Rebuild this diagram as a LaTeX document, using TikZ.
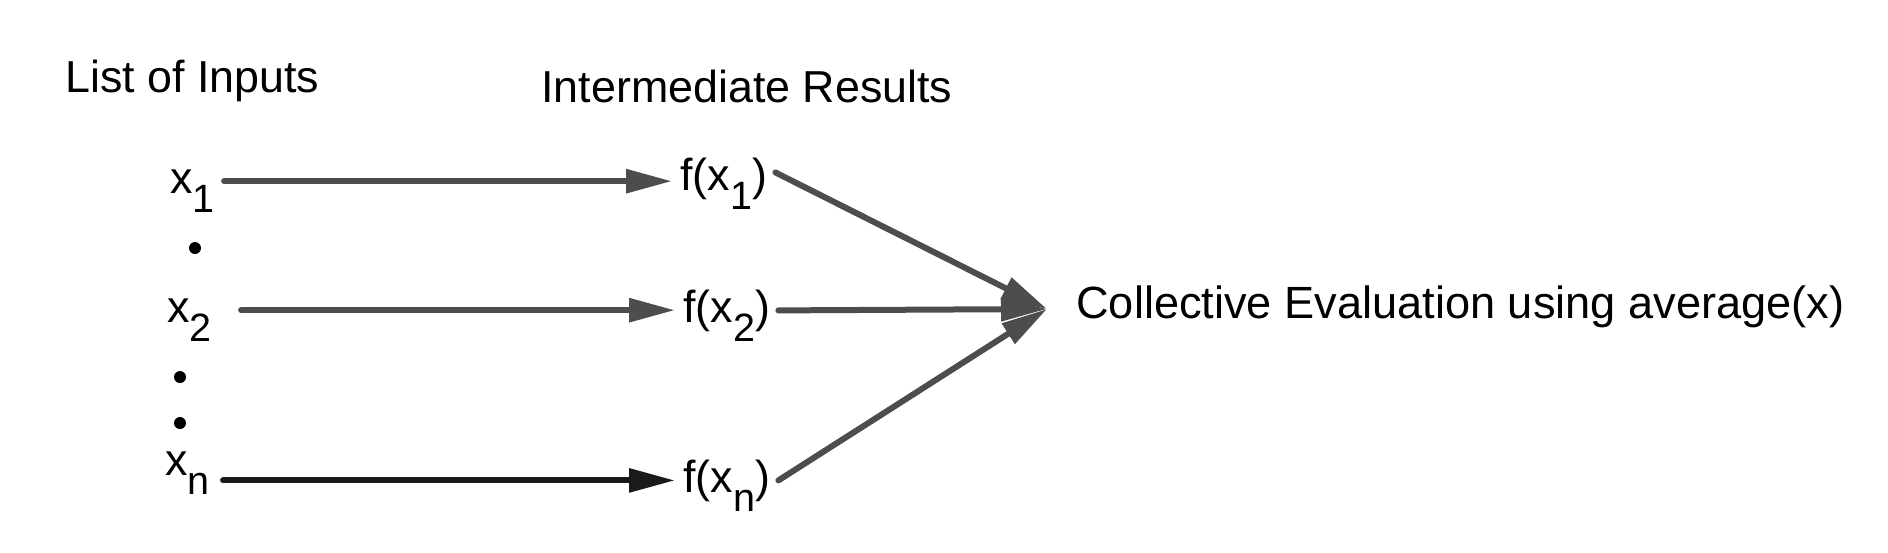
\documentclass[tikz,border=0pt]{standalone}
\usepackage{fontspec}
\setmainfont{Liberation Sans}
\usetikzlibrary{arrows.meta}
\definecolor{arrowgray}{RGB}{77,77,77}
\definecolor{arrowdark}{RGB}{26,26,26}
\newcommand{\lowsub}[1]{\raisebox{-0.44em}[0pt][0pt]{\fontsize{22.5}{22.5}\selectfont #1}}

\begin{document}
\begin{tikzpicture}[x=0.02cm,y=-0.02cm,
  txt/.style={anchor=base west,inner sep=0.16cm,font=\fontsize{25.5}{30}\selectfont},
  dotmark/.style={circle,fill=black,inner sep=0pt,minimum size=0.24cm},
  feed/.style={draw=arrowgray,line width=0.12cm,line cap=round,-{Triangle[length=0.92cm,width=0.46cm]}}]
\useasboundingbox (0,0) rectangle (1888,552);
\node [txt] (inputs) at (57,92) {List of Inputs};
\node [txt] (results) at (533,102) {Intermediate Results};
\node [txt] (x1) at (162,193) {x\lowsub{1}};
\node [dotmark] (d1) at (195,248) {};
\node [txt] (x2) at (159,322) {x\lowsub{2}};
\node [dotmark] (d2) at (180,377) {};
\node [dotmark] (d3) at (180,423) {};
\node [txt] (xn) at (157,475) {x\lowsub{n}};
\node [txt] (fx1) at (672,190) {f(x\lowsub{1})};
\node [txt] (fx2) at (675,322) {f(x\lowsub{2})};
\node [txt] (fxn) at (675,492) {f(x\lowsub{n})};
\node [txt] (eval) at (1068,318) {\fontsize{25.7}{30}\selectfont Collective Evaluation using average(x)};
\coordinate (hub) at (1047,309);
\draw [feed,shorten <=0.02cm] (x1) -- (x1 -| fx1.west);
\draw [feed,shorten <=0.42cm] (x2) -- (x2 -| fx2.west);
\draw [feed,draw=arrowdark,fill=arrowdark,shorten <=0.1cm] (fxn.west -| xn.east) -- (fxn.west);
\draw [feed] ([yshift=0.12cm]fx1.east) -- (hub);
\draw [feed] (fx2.east) -- (hub);
\draw [feed] (fxn.east) -- (hub);
\end{tikzpicture}
\end{document}
